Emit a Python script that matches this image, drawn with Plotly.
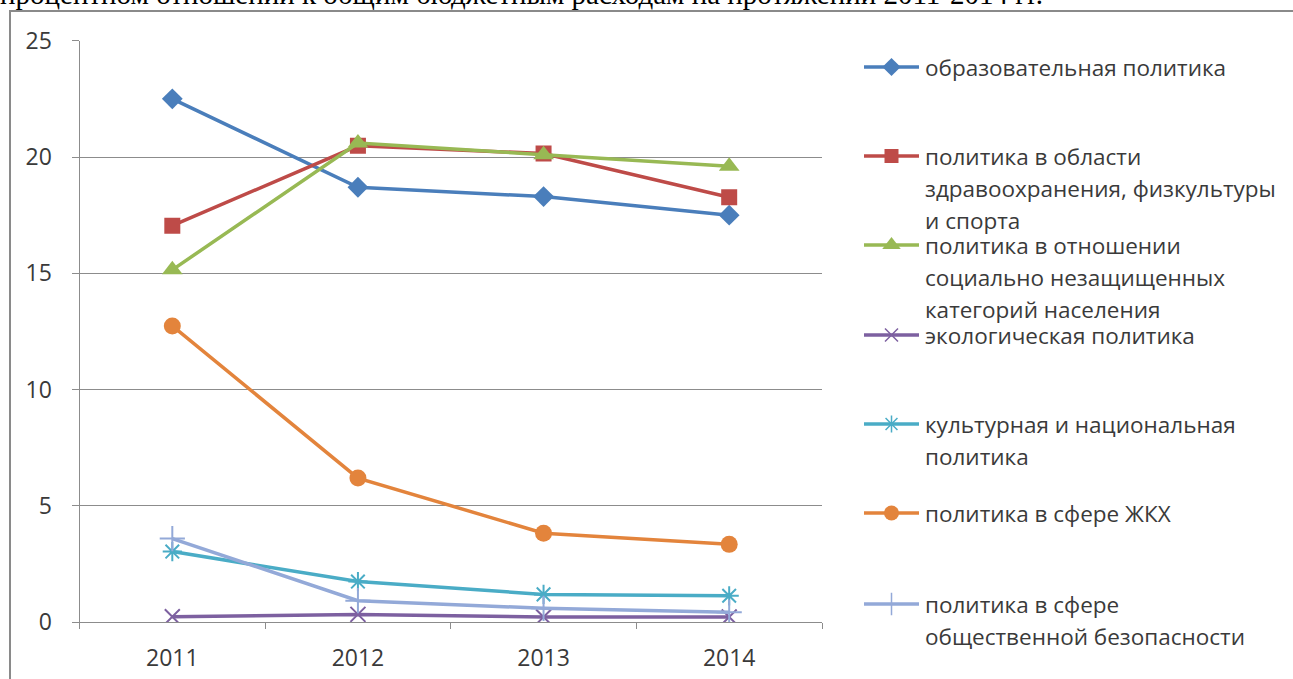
import plotly.graph_objects as go

W, H = 1293, 679

years = ["2011", "2012", "2013", "2014"]

edu = [22.5, 18.7, 18.3, 17.5]
health = [17.05, 20.48, 20.15, 18.27]
social = [15.15, 20.6, 20.1, 19.6]
ecology = [0.24, 0.34, 0.23, 0.23]
culture = [3.04, 1.75, 1.2, 1.14]
housing = [12.74, 6.2, 3.83, 3.35]
security = [3.6, 0.93, 0.6, 0.43]

series_names = [
    ["образовательная политика"],
    ["политика в области", "здравоохранения, физкультуры", "и спорта"],
    ["политика в отношении", "социально незащищенных", "категорий населения"],
    ["экологическая политика"],
    ["культурная и национальная", "политика"],
    ["политика в сфере ЖКХ"],
    ["политика в сфере", "общественной безопасности"],
]
series_values = [edu, health, social, ecology, culture, housing, security]
colors = ["#4A7EBB", "#BE4B48", "#98B954", "#7D60A0", "#4AACC6", "#E3843C", "#93A9D8"]
symbols = ["diamond", "square", "triangle-up", "x-thin-open", "asterisk-open", "circle", "cross-thin-open"]
msizes = [16, 16, 18, 15, 16, 17, 18]

title_text = "процентном отношении к общим бюджетным расходам на протяжении 2011-2014 гг."

FONT = "Open Sans"
TXT = "#3a3a3a"
GRID = "#8c8c8c"

fig = go.Figure()

for name, vals, c, s, ms in zip(series_names, series_values, colors, symbols, msizes):
    thin = s.endswith("-open")
    fig.add_trace(go.Scatter(
        x=years, y=vals, mode="lines+markers", name=" ".join(name),
        line=dict(color=c, width=3.5),
        marker=dict(symbol=s, size=ms, color=c,
                    line=dict(color=c, width=2 if thin else 0)),
        showlegend=False, hoverinfo="x+y+name",
    ))

# custom legend on an overlay axis spanning the page in pixel units
leg_y = [67, 156, 245, 335, 424, 513, 604]
line_gap = 32
for i, (name, c, s, ms) in enumerate(zip(series_names, colors, symbols, msizes)):
    thin = s.endswith("-open")
    y0 = leg_y[i]
    fig.add_trace(go.Scatter(
        x=[864, 919], y=[y0, y0], xaxis="x2", yaxis="y2", mode="lines",
        line=dict(color=c, width=3.5), showlegend=False, hoverinfo="skip"))
    fig.add_trace(go.Scatter(
        x=[891.5], y=[y0], xaxis="x2", yaxis="y2", mode="markers",
        marker=dict(symbol=s, size=ms - 2, color=c, line=dict(color=c, width=1.5 if thin else 0)),
        showlegend=False, hoverinfo="skip"))
    for k, ln in enumerate(name):
        fig.add_annotation(x=923, y=y0 + k * line_gap, xref="x2", yref="y2",
                           text=ln, showarrow=False, xanchor="left", yanchor="middle",
                           font=dict(family=FONT, size=22.5, color=TXT))

# clipped document text at top
fig.add_annotation(x=0, y=12, xref="x2", yref="y2", text=title_text, showarrow=False,
                   xanchor="left", yanchor="bottom", xshift=-2,
                   font=dict(family="Liberation Serif", size=29, color="#000000"))

# chart frame
fig.add_shape(type="rect", xref="x2", yref="y2", x0=10, y0=11, x1=1320, y1=700,
              line=dict(color="#8a8a8a", width=2), layer="below")

fig.update_layout(
    width=W, height=H, margin=dict(l=0, r=0, t=0, b=0, autoexpand=False),
    paper_bgcolor="white", plot_bgcolor="rgba(0,0,0,0)",
    showlegend=False,
    xaxis=dict(domain=[79.5 / W, 822 / W], type="category", range=[-0.5, 3.5],
               showline=True, linecolor=GRID, linewidth=1, ticks="outside",
               tickson="boundaries", ticklen=6, tickcolor=GRID, showgrid=False,
               automargin=False,
               tickfont=dict(family=FONT, size=23, color=TXT), ticklabelstandoff=15),
    yaxis=dict(domain=[1 - 622.3 / H, 1 - 40.7 / H], range=[0, 25], dtick=5,
               showline=True, linecolor=GRID, linewidth=1, ticks="outside",
               ticklen=7, tickcolor=GRID, showgrid=True, gridcolor=GRID, gridwidth=1,
               zeroline=False, automargin=False,
               tickfont=dict(family=FONT, size=23, color=TXT), ticklabelstandoff=15),
    xaxis2=dict(domain=[0, 1], range=[0, W], visible=False, fixedrange=True, automargin=False),
    yaxis2=dict(domain=[0, 1], range=[H, 0], visible=False, fixedrange=True, automargin=False),
)

fig.write_html("out.html", config={"displayModeBar": False},
               post_script="document.body.style.margin='0';document.body.style.overflow='hidden';")
